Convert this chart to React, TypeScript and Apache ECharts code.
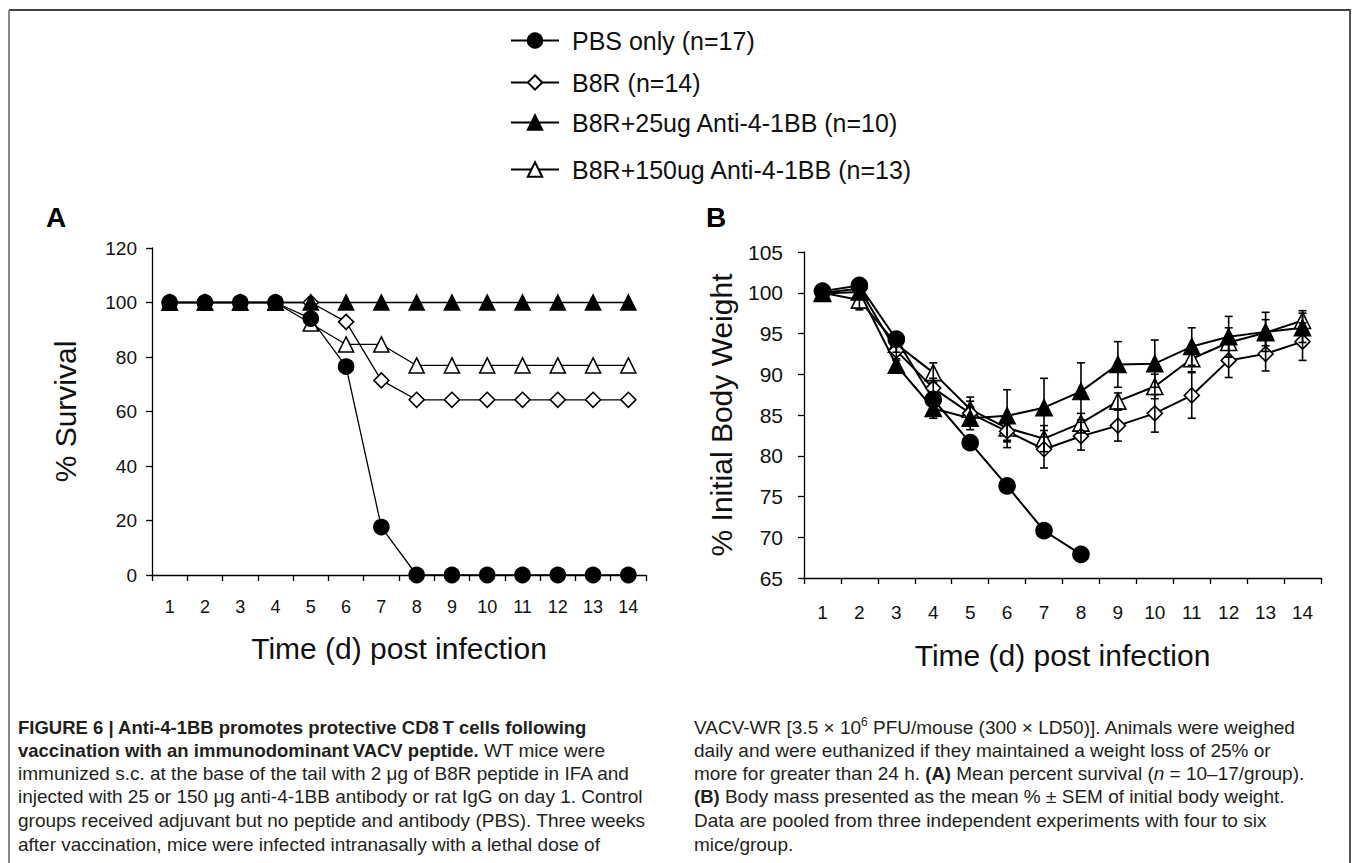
import React, { useEffect, useRef } from "react";
import * as echarts from "echarts";

// ---------- data ----------
const days = ["1", "2", "3", "4", "5", "6", "7", "8", "9", "10", "11", "12", "13", "14"];
const groupNames = [
  "PBS only (n=17)",
  "B8R (n=14)",
  "B8R+25ug Anti-4-1BB (n=10)",
  "B8R+150ug Anti-4-1BB (n=13)",
];

// Panel A: % survival
const survivalPBS = [100, 100, 100, 100, 94.1, 76.5, 17.6, 0, 0, 0, 0, 0, 0, 0];
const survivalB8R = [100, 100, 100, 100, 100, 92.9, 71.4, 64.3, 64.3, 64.3, 64.3, 64.3, 64.3, 64.3];
const survival25 = [100, 100, 100, 100, 100, 100, 100, 100, 100, 100, 100, 100, 100, 100];
const survival150 = [100, 100, 100, 100, 92.3, 84.6, 84.6, 76.9, 76.9, 76.9, 76.9, 76.9, 76.9, 76.9];

// Panel B: % initial body weight (mean) and SEM
const weightPBS = [100.2, 100.9, 94.3, 86.9, 81.6, 76.3, 70.8, 67.9];
const weightPBSErr = [0.3, 0.5, 0.6, 0.8, 0.8, 0.6, 0.6, 0.6];
const weightB8R = [100, 100.5, 92.9, 88.3, 85.2, 83.0, 80.8, 82.4, 83.7, 85.2, 87.4, 91.7, 92.5, 94.0];
const weightB8RErr = [0.2, 0.5, 1.0, 1.2, 1.5, 2.0, 2.3, 1.7, 1.9, 2.3, 2.8, 2.1, 2.1, 2.3];
const weight25 = [99.9, 100.1, 91.1, 85.8, 84.6, 84.9, 85.9, 87.9, 91.2, 91.3, 93.4, 94.6, 95.2, 95.7];
const weight25Err = [0.2, 0.5, 0.6, 1.2, 1.4, 3.2, 3.6, 3.5, 2.8, 2.9, 2.3, 2.5, 2.4, 1.8];
const weight150 = [100, 99.1, 93.7, 90.2, 85.7, 83.4, 82.1, 84.0, 86.7, 88.5, 91.9, 93.9, 95.1, 96.6];
const weight150Err = [0.2, 1.2, 1.0, 1.2, 1.5, 1.5, 1.6, 1.2, 1.0, 1.5, 1.6, 1.8, 1.6, 1.2];

const xTitle = "Time (d) post infection";
const yTitleA = "% Survival";
const yTitleB = "% Initial Body Weight";

const captionLeft = [
  "{b|FIGURE 6 | Anti-4-1BB promotes protective CD8\u2009T cells following}",
  "{b|vaccination with an immunodominant\u2009VACV peptide.} WT mice were",
  "immunized s.c. at the base of the tail with 2 \u03bcg of B8R peptide in IFA and",
  "injected with 25 or 150 \u03bcg anti-4-1BB antibody or rat IgG on day 1. Control",
  "groups received adjuvant but no peptide and antibody (PBS). Three weeks",
  "after vaccination, mice were infected intranasally with a lethal dose of",
];
const captionRight = [
  "VACV-WR [3.5 \u00d7 10{sup|6} PFU/mouse (300 \u00d7 LD50)]. Animals were weighed",
  "daily and were euthanized if they maintained a weight loss of 25% or",
  "more for greater than 24 h. {b|(A)} Mean percent survival ({i|n} = 10\u201317/group).",
  "{b|(B)} Body mass presented as the mean % \u00b1 SEM of initial body weight.",
  "Data are pooled from three independent experiments with four to six",
  "mice/group.",
];

// ---------- styles ----------
const FONT = "'Liberation Sans', Arial, Helvetica, sans-serif";
const INK = "#111";
const CAP = 19;
const markers = [
  { symbol: "circle", filled: true, sizeA: 15, sizeB: 16 },
  { symbol: "diamond", filled: false, sizeA: 15, sizeB: 15 },
  { symbol: "triangle", filled: true, sizeA: 15, sizeB: 16 },
  { symbol: "triangle", filled: false, sizeA: 15, sizeB: 16 },
];

function lineSeries(idx: number, panel: number, data: number[], lw: number) {
  const m = markers[idx];
  return {
    type: "line",
    name: groupNames[idx],
    xAxisIndex: panel,
    yAxisIndex: panel,
    data,
    symbol: m.symbol,
    symbolSize: panel === 0 ? m.sizeA : m.sizeB,
    showAllSymbol: true,
    itemStyle: { color: m.filled ? "#000" : "#fff", borderColor: "#000", borderWidth: 1.6 },
    lineStyle: { color: "#000", width: lw },
    emphasis: { disabled: true },
    z: 2,
  };
}

function errorSeries(idx: number, values: number[], errs: number[]) {
  return {
    type: "custom",
    name: groupNames[idx] + " SEM",
    xAxisIndex: 1,
    yAxisIndex: 1,
    silent: true,
    z: 3,
    data: values.map((v, i) => [i, v - errs[i], v + errs[i]]),
    encode: { x: 0, y: [1, 2] },
    renderItem: (_p: any, api: any) => {
      const x = api.value(0);
      const lo = api.coord([x, api.value(1)]);
      const hi = api.coord([x, api.value(2)]);
      const cap = 4;
      const style = { stroke: "#000", lineWidth: 1.6 };
      return {
        type: "group",
        children: [
          { type: "line", shape: { x1: hi[0], y1: hi[1], x2: lo[0], y2: lo[1] }, style },
          { type: "line", shape: { x1: hi[0] - cap, y1: hi[1], x2: hi[0] + cap, y2: hi[1] }, style },
          { type: "line", shape: { x1: lo[0] - cap, y1: lo[1], x2: lo[0] + cap, y2: lo[1] }, style },
        ],
      };
    },
  };
}

function xAxis(grid: number, labelSize: number, margin: number, nameGap: number) {
  return {
    type: "category",
    gridIndex: grid,
    data: days,
    boundaryGap: true,
    axisLine: { lineStyle: { color: "#000", width: 1.3 } },
    axisTick: { show: true, interval: 0, length: 6, lineStyle: { color: "#000", width: 1.3 } },
    axisLabel: { interval: 0, margin, fontSize: labelSize, color: INK, fontFamily: FONT },
    splitLine: { show: false },
    name: xTitle,
    nameLocation: "middle",
    nameGap,
    nameTextStyle: { fontSize: 30, color: INK, fontFamily: FONT },
  };
}

function yAxis(grid: number, min: number, max: number, interval: number, labelSize: number, margin: number, name: string, nameGap: number) {
  return {
    type: "value",
    gridIndex: grid,
    min,
    max,
    interval,
    axisLine: { show: true, lineStyle: { color: "#000", width: 1.3 } },
    axisTick: { show: true, length: 6, lineStyle: { color: "#000", width: 1.3 } },
    axisLabel: { margin, fontSize: labelSize, color: INK, fontFamily: FONT },
    splitLine: { show: false },
    name,
    nameLocation: "middle",
    nameGap,
    nameTextStyle: { fontSize: 30, color: INK, fontFamily: FONT },
  };
}

const legendRowsY = [40, 82, 122, 169];

function buildOption() {
  const captionRich = {
    b: { fontWeight: "bold", fontSize: 18.5, fontFamily: FONT, fill: "#231f20", lineHeight: 22 },
    i: { fontStyle: "italic", fontSize: CAP, fontFamily: FONT, fill: "#231f20", lineHeight: 22 },
    sup: { fontSize: 12, fontFamily: FONT, fill: "#231f20", lineHeight: 12, verticalAlign: "top" },
  };
  const captionLineY = [727, 750, 773, 796, 820, 844];
  const captionEls: any[] = [];
  captionLeft.forEach((t, i) =>
    captionEls.push({
      type: "text",
      x: 18,
      y: captionLineY[i],
      style: { text: t, fontSize: CAP, fontFamily: FONT, fill: "#231f20", verticalAlign: "middle", lineHeight: 22, rich: captionRich },
    })
  );
  captionRight.forEach((t, i) =>
    captionEls.push({
      type: "text",
      x: 694,
      y: captionLineY[i],
      style: { text: t, fontSize: CAP, fontFamily: FONT, fill: "#231f20", verticalAlign: "middle", lineHeight: 22, rich: captionRich },
    })
  );

  return {
    animation: false,
    backgroundColor: "#fff",
    textStyle: { fontFamily: FONT },
    grid: [
      { left: 152, top: 248, width: 494, height: 327, containLabel: false },
      { left: 804, top: 252, width: 517, height: 326, containLabel: false },
    ],
    xAxis: [xAxis(0, 18, 23, 58), xAxis(1, 19, 25, 62)],
    yAxis: [
      yAxis(0, 0, 120, 20, 19, 15, yTitleA, 72),
      yAxis(1, 65, 105, 5, 21, 21, yTitleB, 68),
    ],
    legend: groupNames.map((n, i) => ({
      data: [n],
      left: 505,
      top: legendRowsY[i] - 17,
      orient: "vertical",
      itemWidth: 48,
      itemHeight: 18,
      selectedMode: false,
      textStyle: { fontSize: 25, color: INK, fontFamily: FONT, padding: [0, 0, 0, 8] },
    })),
    series: [
      lineSeries(3, 0, survival150, 1.3),
      lineSeries(1, 0, survivalB8R, 1.3),
      lineSeries(2, 0, survival25, 1.3),
      lineSeries(0, 0, survivalPBS, 1.3),
      lineSeries(3, 1, weight150, 2),
      lineSeries(1, 1, weightB8R, 2),
      lineSeries(2, 1, weight25, 2),
      lineSeries(0, 1, weightPBS, 2),
      errorSeries(3, weight150, weight150Err),
      errorSeries(1, weightB8R, weightB8RErr),
      errorSeries(2, weight25, weight25Err),
      errorSeries(0, weightPBS, weightPBSErr),
    ],
    graphic: [
      { type: "line", shape: { x1: 9, y1: 10, x2: 1351, y2: 10 }, style: { stroke: "#444", lineWidth: 2 } },
      { type: "line", shape: { x1: 9, y1: 10, x2: 9, y2: 863 }, style: { stroke: "#888", lineWidth: 2 } },
      { type: "line", shape: { x1: 1350, y1: 10, x2: 1350, y2: 863 }, style: { stroke: "#555", lineWidth: 2 } },
      { type: "text", x: 46, y: 217, style: { text: "A", fontSize: 28, fontWeight: "bold", fontFamily: FONT, fill: "#000", verticalAlign: "middle" } },
      { type: "text", x: 706, y: 217, style: { text: "B", fontSize: 28, fontWeight: "bold", fontFamily: FONT, fill: "#000", verticalAlign: "middle" } },
      ...captionEls,
    ],
  };
}

export default function App() {
  const ref = useRef<HTMLDivElement>(null);
  useEffect(() => {
    if (!ref.current) return;
    const chart = echarts.init(ref.current, undefined, { renderer: "svg" });
    chart.setOption(buildOption() as any);
    return () => chart.dispose();
  }, []);
  return (
    <div
      ref={ref}
      style={{ position: "absolute", left: 0, top: 0, width: 1352, height: 863, background: "#fff" }}
    />
  );
}
